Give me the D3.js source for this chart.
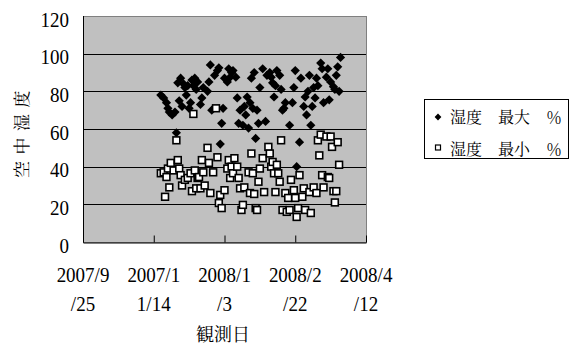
<!DOCTYPE html>
<html>
<head>
<meta charset="utf-8">
<script src="https://cdn.jsdelivr.net/npm/d3@7/dist/d3.min.js"></script>
<style>
  html, body { margin: 0; padding: 0; background: #fff; }
  svg { display: block; }
  .num { font-family: "Liberation Serif"; font-size: 19px; fill: #000; }
  .cjk { font-family: "Noto Serif CJK JP", "Noto Sans CJK JP"; fill: #000; }
</style>
</head>
<body>
<svg id="chart" width="574" height="346"></svg>
<script>
// Daily maximum humidity (%)
const maxDates = [
  "2007-11-19","2007-11-21","2007-11-23","2007-11-24","2007-11-25","2007-11-27","2007-11-29","2007-11-30",
  "2007-12-01","2007-12-02","2007-12-03","2007-12-04","2007-12-05","2007-12-06","2007-12-07","2007-12-08",
  "2007-12-09","2007-12-10","2007-12-11","2007-12-12","2007-12-13","2007-12-14","2007-12-15","2007-12-17",
  "2007-12-18","2007-12-19","2007-12-22","2007-12-23","2007-12-24","2007-12-25","2007-12-27","2007-12-29",
  "2007-12-30","2007-12-31","2008-01-01","2008-01-02","2008-01-03","2008-01-05","2008-01-06","2008-01-07",
  "2008-01-08","2008-01-09","2008-01-11","2008-01-12","2008-01-13","2008-01-14","2008-01-16","2008-01-17",
  "2008-01-18","2008-01-19","2008-01-20","2008-01-21","2008-01-22","2008-01-23","2008-01-24","2008-01-25",
  "2008-01-26","2008-01-27","2008-01-28","2008-01-30","2008-02-01","2008-02-02","2008-02-04","2008-02-05",
  "2008-02-06","2008-02-07","2008-02-08","2008-02-09","2008-02-11","2008-02-12","2008-02-13","2008-02-14",
  "2008-02-15","2008-02-18","2008-02-20","2008-02-21","2008-02-22","2008-02-23","2008-02-25","2008-02-26",
  "2008-02-28","2008-02-29","2008-03-01","2008-03-02","2008-03-03","2008-03-04","2008-03-05","2008-03-06",
  "2008-03-07","2008-03-08","2008-03-09","2008-03-11","2008-03-12","2008-03-13","2008-03-15","2008-03-16",
  "2008-03-17","2008-03-18","2008-03-20","2008-03-21","2008-03-22","2008-03-23","2008-03-24","2008-03-25"
];
const maxValues = [
  78, 76.5, 74, 71, 69, 67.5, 69, 58,
  84.5, 75, 87, 72, 84, 82, 78, 83,
  71, 74, 86, 83, 87, 81, 85, 73,
  76.5, 82, 80, 85, 94, 70, 88.5, 91,
  92.5, 52, 63, 71, 87, 85, 92, 87.5,
  90, 91, 87.5, 76.5, 63, 70, 62, 72,
  67.5, 77, 60.5, 74, 87, 71, 90, 55,
  70, 63, 82, 92, 64, 88.5, 90, 87.5,
  84.5, 77, 83, 91, 88.5, 81, 70, 71,
  74, 62, 74, 82, 91, 40, 53, 87,
  72, 77, 67.5, 80, 88.5, 62, 72, 82,
  76.5, 87, 83, 95, 92, 74, 87.5, 92,
  75.5, 85, 82.5, 81, 88.5, 93, 80, 98
];

// Daily minimum humidity (%)
const minDates = [
  "2007-11-19","2007-11-21","2007-11-22","2007-11-23","2007-11-24","2007-11-25","2007-11-26","2007-11-28",
  "2007-11-30","2007-12-01","2007-12-02","2007-12-03","2007-12-04","2007-12-06","2007-12-08","2007-12-10",
  "2007-12-11","2007-12-12","2007-12-13","2007-12-14","2007-12-15","2007-12-16","2007-12-17","2007-12-18",
  "2007-12-19","2007-12-20","2007-12-22","2007-12-23","2007-12-24","2007-12-26","2007-12-28","2007-12-29",
  "2007-12-30","2007-12-31","2008-01-01","2008-01-03","2008-01-05","2008-01-06","2008-01-07","2008-01-08",
  "2008-01-09","2008-01-10","2008-01-12","2008-01-13","2008-01-14","2008-01-15","2008-01-16","2008-01-17",
  "2008-01-20","2008-01-21","2008-01-22","2008-01-23","2008-01-24","2008-01-25","2008-01-26","2008-01-27",
  "2008-01-28","2008-01-30","2008-01-31","2008-02-03","2008-02-04","2008-02-05","2008-02-06","2008-02-07",
  "2008-02-08","2008-02-09","2008-02-10","2008-02-11","2008-02-12","2008-02-13","2008-02-15","2008-02-16",
  "2008-02-17","2008-02-18","2008-02-19","2008-02-21","2008-02-22","2008-02-23","2008-02-24","2008-02-25",
  "2008-02-27","2008-02-28","2008-02-29","2008-03-03","2008-03-04","2008-03-06","2008-03-08","2008-03-09",
  "2008-03-10","2008-03-11","2008-03-12","2008-03-13","2008-03-15","2008-03-16","2008-03-17","2008-03-18",
  "2008-03-19","2008-03-20","2008-03-21","2008-03-22","2008-03-23","2008-03-24"
];
const minValues = [
  36.5, 37, 24, 34.5, 39, 29, 42, 38,
  54, 43.5, 39, 35.5, 30, 33, 34, 36.5,
  27, 68, 38, 28.5, 34, 34.5, 28.5, 43.5,
  37, 30, 50, 42, 26, 37, 71, 45,
  20.7, 25, 18, 27.5, 39, 43.5, 34, 40,
  36.5, 44.5, 40, 34, 28.5, 17, 19.7, 29,
  37, 26, 47, 36.5, 25.5, 18, 17, 32,
  39, 44.5, 26.5, 50.5, 47, 40, 42.5, 36.5,
  26.5, 41, 36.5, 32, 54, 17, 26, 16,
  23.4, 17, 33, 27.5, 23.4, 13.3, 18, 35.5,
  24, 28.5, 17, 26.5, 15.4, 29, 26, 54,
  46, 57, 35.5, 29, 56, 34.5, 34, 56,
  50.5, 27, 21, 27, 53, 41
];

const seriesNames = ["湿度　最大　％", "湿度　最小　％"];
const yTickValues = [0, 20, 40, 60, 80, 100, 120];
const xTickDates = ["2007-09-25", "2007-11-14", "2008-01-03", "2008-02-22", "2008-04-12"];
const xTickLabels = [["2007/9", "/25"], ["2007/1", "1/14"], ["2008/1", "/3"], ["2008/2", "/22"], ["2008/4", "/12"]];
const yTitle = "空中湿度";
const xTitle = "観測日";

const parse = d3.timeParse("%Y-%m-%d");
const svg = d3.select("#chart");

const plot = { left: 83, right: 366, top: 16, bottom: 242 };

const x = d3.scaleTime()
  .domain([parse(xTickDates[0]), parse(xTickDates[xTickDates.length - 1])])
  .range([plot.left, plot.right]);
const y = d3.scaleLinear().domain([0, 120]).range([plot.bottom, plot.top]);

// plot background
svg.append("rect")
  .attr("x", plot.left + 0.5).attr("y", plot.top + 0.5)
  .attr("width", plot.right - plot.left).attr("height", plot.bottom - plot.top)
  .attr("fill", "#c0c0c0")
  .attr("stroke", "#808080").attr("stroke-width", 1);

// horizontal gridlines
svg.append("g")
  .selectAll("line")
  .data(yTickValues.filter(v => v > 0 && v < 120))
  .join("line")
  .attr("x1", plot.left).attr("x2", plot.right)
  .attr("y1", d => Math.round(y(d)) + 0.5).attr("y2", d => Math.round(y(d)) + 0.5)
  .attr("stroke", "#000").attr("stroke-width", 1);

// y axis line and labels
const yAxis = svg.append("g")
  .attr("transform", `translate(${plot.left + 0.5},0)`)
  .call(d3.axisLeft(y).tickValues(yTickValues).tickSize(0).tickFormat(""));
yAxis.select(".domain").attr("stroke", "#000").attr("d", `M0,${plot.top}V${plot.bottom + 0.5}`);

svg.append("g")
  .selectAll("text")
  .data(yTickValues)
  .join("text")
  .attr("class", "num")
  .attr("transform", d => `translate(69,${y(d) + 10.5}) scale(1,1.15)`)
  .attr("text-anchor", "end")
  .text(d => d);

// x axis with inward ticks
const xAxis = svg.append("g")
  .attr("transform", `translate(0,${plot.bottom + 0.5})`)
  .call(d3.axisBottom(x).tickValues(xTickDates.map(parse)).tickSizeInner(-7).tickSizeOuter(0).tickFormat(""));
xAxis.select(".domain").attr("stroke", "#000");
xAxis.selectAll(".tick line").attr("stroke", "#000");

const xLab = svg.append("g")
  .selectAll("g")
  .data(xTickDates.map((d, i) => ({ date: parse(d), lines: xTickLabels[i] })))
  .join("g");
xLab.each(function (d) {
  const g = d3.select(this);
  d.lines.forEach((line, j) => {
    g.append("text")
      .attr("class", "num")
      .attr("transform", `translate(${x(d.date)},${282 + j * 29}) scale(1,1.15)`)
      .attr("text-anchor", "middle")
      .text(line);
  });
});

// axis titles
svg.append("text")
  .attr("class", "cjk")
  .attr("transform", "translate(28,131) rotate(-90)")
  .attr("text-anchor", "middle")
  .attr("font-size", 17)
  .attr("letter-spacing", 6.5)
  .text(yTitle);

svg.append("text")
  .attr("class", "cjk")
  .attr("x", 223).attr("y", 341)
  .attr("text-anchor", "middle")
  .attr("font-size", 18)
  .text(xTitle);

// marker shapes
const diamondPath = s => `M0,${-s}L${s},0L0,${s}L${-s},0Z`;

// maximum series: black diamonds
svg.append("g")
  .selectAll("path")
  .data(maxDates.map((d, i) => ({ date: parse(d), v: maxValues[i] })))
  .join("path")
  .attr("transform", d => `translate(${x(d.date)},${y(d.v)})`)
  .attr("d", diamondPath(4.6))
  .attr("fill", "#000");

// minimum series: white squares with black outline
svg.append("g")
  .selectAll("rect")
  .data(minDates.map((d, i) => ({ date: parse(d), v: minValues[i] })))
  .join("rect")
  .attr("x", d => x(d.date) - 3.4)
  .attr("y", d => y(d.v) - 3.4)
  .attr("width", 6.8).attr("height", 6.8)
  .attr("fill", "#fff")
  .attr("stroke", "#000").attr("stroke-width", 1.6);

// legend
const legend = svg.append("g");
legend.append("rect")
  .attr("x", 424.5).attr("y", 99.5)
  .attr("width", 144).attr("height", 59)
  .attr("fill", "#fff")
  .attr("stroke", "#000").attr("stroke-width", 1);

legend.append("path")
  .attr("transform", "translate(438,117)")
  .attr("d", diamondPath(3.4))
  .attr("fill", "#000");
legend.append("rect")
  .attr("x", 435.5).attr("y", 145)
  .attr("width", 5).attr("height", 5)
  .attr("fill", "#fff")
  .attr("stroke", "#000").attr("stroke-width", 1.2);

legend.selectAll("text.item")
  .data(seriesNames)
  .join("text")
  .attr("class", "cjk item")
  .attr("x", 450)
  .attr("y", (d, i) => 123 + i * 32)
  .attr("font-size", 16)
  .text(d => d);
</script>
</body>
</html>
